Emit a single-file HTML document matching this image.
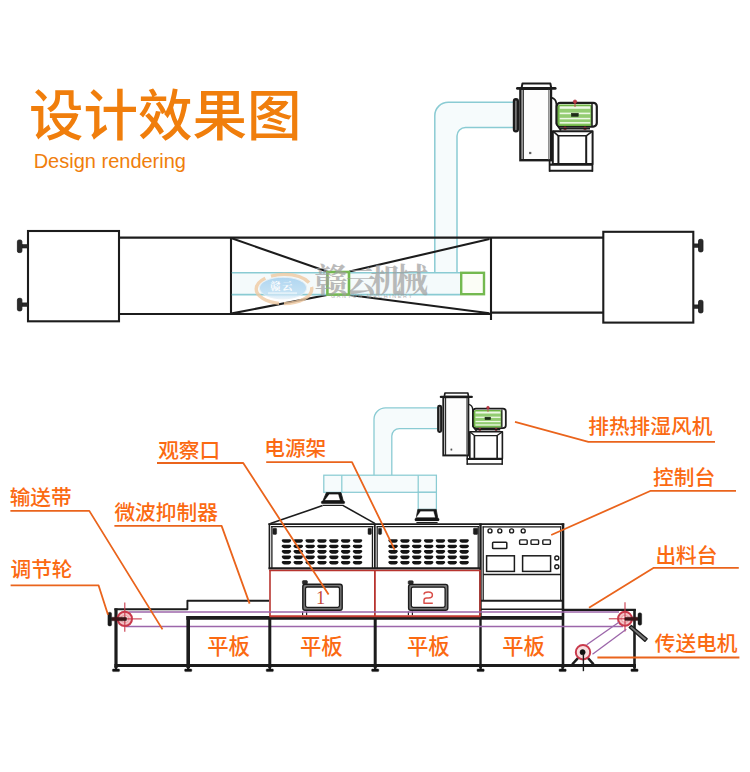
<!DOCTYPE html>
<html><head><meta charset="utf-8"><title>Design rendering</title>
<style>
html,body{margin:0;padding:0;background:#fff;}
body{width:750px;height:772px;overflow:hidden;font-family:"Liberation Sans",sans-serif;}
svg{display:block}
</style></head><body>
<svg width="750" height="772" viewBox="0 0 750 772">
<rect width="750" height="772" fill="#ffffff"/>
<text x="29.02" y="135.2" font-family="'Liberation Sans','Noto Sans CJK SC',sans-serif" font-size="54.5" font-weight="500" fill="#f07e0c">设计效果图</text>
<text x="33.66" y="167.5" font-family="'Liberation Sans','Noto Sans CJK SC',sans-serif" font-size="20" font-weight="500" fill="#f07e0c">Design rendering</text>
<g>
<path d="M434.8 272.5 L434.8 115.7 A13.5 13.5 0 0 1 448.3 102.2 L513.5 102.2 L513.5 127.6 L465.5 127.6 A8.5 8.5 0 0 0 457.0 136.1 L457.0 272.5z" fill="#f6fbfc" stroke="none"/>
<path d="M434.8 272.5 L434.8 115.7 A13.5 13.5 0 0 1 448.3 102.2 L513.5 102.2" fill="none" stroke="#8acbd3" stroke-width="1.5" />
<path d="M457.0 272.5 L457.0 136.1 A8.5 8.5 0 0 1 465.5 127.6 L513.5 127.6" fill="none" stroke="#8acbd3" stroke-width="1.5" />
</g>
<g transform="translate(519.4,83) scale(1,1) translate(-519.4,-83)">
<rect x="514.0" y="99.2" width="3.8" height="32.2" fill="#8c8c8c" stroke="#1c1c1c" stroke-width="2.4" rx="1.8" />
<rect x="520.4" y="88.8" width="30.6" height="71.4" fill="#fdfdfd" stroke="#1c1c1c" stroke-width="2.4" rx="0" />
<line x1="523.2" y1="89" x2="523.2" y2="160" stroke="#1c1c1c" stroke-width="1.3" />
<line x1="548.8" y1="89" x2="548.8" y2="160" stroke="#555" stroke-width="0.9" />
<polygon points="521.6,88 522.4,83.6 550.4,83.6 551.2,88" fill="#fff" stroke="#1c1c1c" stroke-width="2.0" stroke-linejoin="round" />
<line x1="517.4" y1="88.4" x2="555.2" y2="88.4" stroke="#1c1c1c" stroke-width="2.8" stroke-linecap="round"/>
<rect x="529.6" y="152.2" width="1.4" height="1.6" fill="#555" stroke="#555" stroke-width="0.6" rx="0" />
<path d="M551.5 97.6 Q556 98.6 556.4 104 L556.4 124 L561 130.5" fill="none" stroke="#1c1c1c" stroke-width="1.8" />
<rect x="556.8" y="102.8" width="40.0" height="23.8" fill="#fff" stroke="#1c1c1c" stroke-width="2.2" rx="3.5" />
<rect x="558.4" y="105.2" width="33.0" height="20.0" fill="#93cc72" stroke="#6fb445" stroke-width="1.6" rx="2" />
<line x1="559.8" y1="107.6" x2="590.2" y2="107.6" stroke="#eef8e6" stroke-width="2.4" />
<line x1="559.8" y1="113.4" x2="590.2" y2="113.4" stroke="#eef8e6" stroke-width="1.6" />
<line x1="559.8" y1="118.6" x2="590.2" y2="118.6" stroke="#eef8e6" stroke-width="1.5" />
<line x1="559.8" y1="122.8" x2="590.2" y2="122.8" stroke="#eef8e6" stroke-width="1.5" />
<line x1="592.0" y1="104" x2="592.0" y2="126" stroke="#1c1c1c" stroke-width="1.5" />
<rect x="571.3" y="113.2" width="7.0" height="3.2" fill="#1d2b17" stroke="#1d2b17" stroke-width="0.5" rx="0" />
<circle cx="575" cy="101.6" r="1.7" fill="#c03a46" stroke="#a82c38" stroke-width="0.6"/>
<circle cx="565" cy="128.4" r="1.5" fill="#c03a46" stroke="#a82c38" stroke-width="0.6"/>
<circle cx="585" cy="128.4" r="1.5" fill="#c03a46" stroke="#a82c38" stroke-width="0.6"/>
<line x1="575" y1="103" x2="575" y2="107" stroke="#c8404a" stroke-width="0.9" />
<polygon points="552.8,131.2 592.6,131.2 592.6,164 552.8,164" fill="#fff" stroke="#1c1c1c" stroke-width="2.0" stroke-linejoin="round" />
<line x1="560" y1="128.6" x2="590" y2="128.6" stroke="#1c1c1c" stroke-width="1.8" />
<polyline points="552.8,131.2 558.4,135.8 586.2,135.8 592.6,131.2" fill="none" stroke="#1c1c1c" stroke-width="1.6" stroke-linejoin="round" />
<line x1="558.4" y1="135.8" x2="558.4" y2="164" stroke="#1c1c1c" stroke-width="2.0" />
<line x1="586.2" y1="135.8" x2="586.2" y2="164" stroke="#1c1c1c" stroke-width="2.0" />
<line x1="549" y1="164.6" x2="593" y2="164.6" stroke="#1c1c1c" stroke-width="2.2" />
<line x1="549" y1="170.8" x2="593" y2="170.8" stroke="#1c1c1c" stroke-width="2.0" />
<line x1="549.6" y1="160.5" x2="549.6" y2="171.6" stroke="#1c1c1c" stroke-width="1.8" />
<line x1="592.4" y1="164" x2="592.4" y2="171.6" stroke="#1c1c1c" stroke-width="1.8" />
</g>
<rect x="28" y="231" width="91" height="90.3" fill="#fff" stroke="#1c1c1c" stroke-width="2.1" rx="0" />
<rect x="22" y="244.60000000000002" width="6" height="3.4" fill="#2a2a2a" stroke="#1c1c1c" stroke-width="0.6" rx="0" />
<rect x="17.4" y="240.0" width="4.5" height="12.6" fill="#2a2a2a" stroke="#1c1c1c" stroke-width="0.8" rx="1.6" />
<rect x="22" y="302.90000000000003" width="6" height="3.4" fill="#2a2a2a" stroke="#1c1c1c" stroke-width="0.6" rx="0" />
<rect x="17.4" y="298.3" width="4.5" height="12.6" fill="#2a2a2a" stroke="#1c1c1c" stroke-width="0.8" rx="1.6" />
<line x1="119" y1="237.6" x2="603.3" y2="237.6" stroke="#1c1c1c" stroke-width="2.1" />
<line x1="119" y1="314.0" x2="491" y2="314.0" stroke="#1c1c1c" stroke-width="2.1" />
<line x1="491" y1="312.6" x2="603.3" y2="312.6" stroke="#1c1c1c" stroke-width="2.1" />
<line x1="231" y1="237.6" x2="231" y2="314" stroke="#1c1c1c" stroke-width="2.1" />
<line x1="491" y1="237.6" x2="491" y2="320" stroke="#1c1c1c" stroke-width="2.1" />
<line x1="231" y1="238" x2="327" y2="271.6" stroke="#1c1c1c" stroke-width="2.1" />
<line x1="231" y1="313.6" x2="327" y2="295" stroke="#1c1c1c" stroke-width="2.1" />
<line x1="349.5" y1="271.6" x2="489.5" y2="239" stroke="#1c1c1c" stroke-width="2.1" />
<line x1="349.5" y1="295" x2="489.5" y2="313.2" stroke="#1c1c1c" stroke-width="2.1" />
<rect x="232" y="272.7" width="228" height="21.9" fill="#f4fafb" stroke="none" stroke-width="0" rx="0" />
<line x1="231.8" y1="272.7" x2="460" y2="272.7" stroke="#8acbd3" stroke-width="1.6" />
<line x1="231.8" y1="294.6" x2="460" y2="294.6" stroke="#8acbd3" stroke-width="1.6" />
<rect x="327.4" y="272.0" width="21.6" height="22.6" fill="#fbfdf6" stroke="#74b950" stroke-width="2.6" rx="0" />
<rect x="461.2" y="272.8" width="22.8" height="21.4" fill="#fbfdf6" stroke="#74b950" stroke-width="2.4" rx="0" />
<rect x="603.3" y="231.8" width="90.0" height="90.8" fill="#fff" stroke="#1c1c1c" stroke-width="2.1" rx="0" />
<rect x="693.3" y="243.9" width="5.7" height="3.4" fill="#2a2a2a" stroke="#1c1c1c" stroke-width="0.6" rx="0" />
<rect x="698.5" y="239.29999999999998" width="4.5" height="12.6" fill="#2a2a2a" stroke="#1c1c1c" stroke-width="0.8" rx="1.6" />
<rect x="693.3" y="304.90000000000003" width="5.7" height="3.4" fill="#2a2a2a" stroke="#1c1c1c" stroke-width="0.6" rx="0" />
<rect x="698.5" y="300.3" width="4.5" height="12.6" fill="#2a2a2a" stroke="#1c1c1c" stroke-width="0.8" rx="1.6" />
<defs><linearGradient id="lg" x1="0" y1="0" x2="0" y2="1"><stop offset="0" stop-color="#9fcdee"/><stop offset="0.7" stop-color="#b9dcf3"/><stop offset="1" stop-color="#e4f1fa"/></linearGradient></defs>
<g opacity="0.8">
<ellipse cx="284" cy="289" rx="27.8" ry="14.6" fill="none" stroke="#f0caa2" stroke-width="3.4" stroke-dasharray="34 5 44 6 40 5"/>
<ellipse cx="283" cy="288" rx="23.6" ry="10.8" fill="url(#lg)" stroke="#e3eef6" stroke-width="1"/>
</g>
<text y="291.6" font-family="'Liberation Serif','Noto Serif CJK SC',serif" font-weight="bold" fill="#9e9e9e" opacity="0.7"><tspan x="314.33" font-size="33.5">赣</tspan><tspan x="345.95" font-size="30">云</tspan><tspan x="370.56" font-size="31.5">机</tspan><tspan x="395.72" font-size="32.5">械</tspan></text>
<text x="331" y="298" font-family="'Liberation Sans',sans-serif" font-size="5.4" fill="#a0a0a0" opacity="0.8" textLength="81" lengthAdjust="spacing">GANYUN MACHINERY</text>
<text x="269.98" y="290.4" font-family="'Liberation Serif','Noto Serif CJK SC',serif" font-weight="bold" font-size="10.5" letter-spacing="1.5" fill="#ffffff" opacity="0.95">赣云</text>
<rect x="268" y="292.2" width="29" height="2.0" fill="#ffffff" opacity="0.5"/>
<path d="M374.0 475.3 L374.0 419.3 A11.5 11.5 0 0 1 385.5 407.8 L437.3 407.8 L437.3 428.6 L399.3 428.6 A7.5 7.5 0 0 0 391.8 436.1 L391.8 475.3z" fill="#f6fbfc" stroke="none"/>
<path d="M374.0 475.3 L374.0 419.3 A11.5 11.5 0 0 1 385.5 407.8 L437.3 407.8" fill="none" stroke="#8acbd3" stroke-width="1.3" />
<path d="M391.8 475.3 L391.8 436.1 A7.5 7.5 0 0 1 399.3 428.6 L437.3 428.6" fill="none" stroke="#8acbd3" stroke-width="1.3" />
<rect x="323.8" y="475.2" width="112.6" height="17.1" fill="#f6fbfc" stroke="#8acbd3" stroke-width="1.25" rx="0" />
<rect x="418.2" y="492.3" width="18.2" height="17.1" fill="#f6fbfc" stroke="#8acbd3" stroke-width="1.25" rx="0" />
<line x1="341.8" y1="475.2" x2="341.8" y2="492.3" stroke="#8acbd3" stroke-width="1.25" />
<line x1="418.2" y1="475.2" x2="418.2" y2="492.3" stroke="#8acbd3" stroke-width="1.25" />
<g transform="translate(442.5,392.5) scale(0.818,0.815) translate(-519.4,-83)">
<rect x="514.0" y="99.2" width="3.8" height="32.2" fill="#8c8c8c" stroke="#1c1c1c" stroke-width="2.4" rx="1.8" />
<rect x="520.4" y="88.8" width="30.6" height="71.4" fill="#fdfdfd" stroke="#1c1c1c" stroke-width="2.4" rx="0" />
<line x1="523.2" y1="89" x2="523.2" y2="160" stroke="#1c1c1c" stroke-width="1.3" />
<line x1="548.8" y1="89" x2="548.8" y2="160" stroke="#555" stroke-width="0.9" />
<polygon points="521.6,88 522.4,83.6 550.4,83.6 551.2,88" fill="#fff" stroke="#1c1c1c" stroke-width="2.0" stroke-linejoin="round" />
<line x1="517.4" y1="88.4" x2="555.2" y2="88.4" stroke="#1c1c1c" stroke-width="2.8" stroke-linecap="round"/>
<rect x="529.6" y="152.2" width="1.4" height="1.6" fill="#555" stroke="#555" stroke-width="0.6" rx="0" />
<path d="M551.5 97.6 Q556 98.6 556.4 104 L556.4 124 L561 130.5" fill="none" stroke="#1c1c1c" stroke-width="1.8" />
<rect x="556.8" y="102.8" width="40.0" height="23.8" fill="#fff" stroke="#1c1c1c" stroke-width="2.2" rx="3.5" />
<rect x="558.4" y="105.2" width="33.0" height="20.0" fill="#93cc72" stroke="#6fb445" stroke-width="1.6" rx="2" />
<line x1="559.8" y1="107.6" x2="590.2" y2="107.6" stroke="#eef8e6" stroke-width="2.4" />
<line x1="559.8" y1="113.4" x2="590.2" y2="113.4" stroke="#eef8e6" stroke-width="1.6" />
<line x1="559.8" y1="118.6" x2="590.2" y2="118.6" stroke="#eef8e6" stroke-width="1.5" />
<line x1="559.8" y1="122.8" x2="590.2" y2="122.8" stroke="#eef8e6" stroke-width="1.5" />
<line x1="592.0" y1="104" x2="592.0" y2="126" stroke="#1c1c1c" stroke-width="1.5" />
<rect x="571.3" y="113.2" width="7.0" height="3.2" fill="#1d2b17" stroke="#1d2b17" stroke-width="0.5" rx="0" />
<circle cx="575" cy="101.6" r="1.7" fill="#c03a46" stroke="#a82c38" stroke-width="0.6"/>
<circle cx="565" cy="128.4" r="1.5" fill="#c03a46" stroke="#a82c38" stroke-width="0.6"/>
<circle cx="585" cy="128.4" r="1.5" fill="#c03a46" stroke="#a82c38" stroke-width="0.6"/>
<line x1="575" y1="103" x2="575" y2="107" stroke="#c8404a" stroke-width="0.9" />
<polygon points="552.8,131.2 592.6,131.2 592.6,164 552.8,164" fill="#fff" stroke="#1c1c1c" stroke-width="2.0" stroke-linejoin="round" />
<line x1="560" y1="128.6" x2="590" y2="128.6" stroke="#1c1c1c" stroke-width="1.8" />
<polyline points="552.8,131.2 558.4,135.8 586.2,135.8 592.6,131.2" fill="none" stroke="#1c1c1c" stroke-width="1.6" stroke-linejoin="round" />
<line x1="558.4" y1="135.8" x2="558.4" y2="164" stroke="#1c1c1c" stroke-width="2.0" />
<line x1="586.2" y1="135.8" x2="586.2" y2="164" stroke="#1c1c1c" stroke-width="2.0" />
<line x1="549" y1="164.6" x2="593" y2="164.6" stroke="#1c1c1c" stroke-width="2.2" />
<line x1="549" y1="170.8" x2="593" y2="170.8" stroke="#1c1c1c" stroke-width="2.0" />
<line x1="549.6" y1="160.5" x2="549.6" y2="171.6" stroke="#1c1c1c" stroke-width="1.8" />
<line x1="592.4" y1="164" x2="592.4" y2="171.6" stroke="#1c1c1c" stroke-width="1.8" />
</g>
<polygon points="326.4,492.6 341,492.6 343.6,502.0 322.4,502.0" fill="#151515" stroke="#1c1c1c" stroke-width="0.8" stroke-linejoin="round" />
<polygon points="329.2,494.6 338.2,494.6 339.8,500.1 325.2,500.1" fill="#fff" stroke="#fff" stroke-width="0.3" stroke-linejoin="round" />
<rect x="321.2" y="501.1" width="23.6" height="2.6" fill="#151515" stroke="#1c1c1c" stroke-width="0.2" rx="1.0" />
<line x1="322.8" y1="505.4" x2="343.2" y2="505.4" stroke="#1c1c1c" stroke-width="1.2" />
<polygon points="417.8,509.4 436.2,509.4 438.0,519.2 416.0,519.2" fill="#151515" stroke="#1c1c1c" stroke-width="0.8" stroke-linejoin="round" />
<polygon points="420.6,511.4 433.4,511.4 435.0,517.3000000000001 416.6,517.3000000000001" fill="#fff" stroke="#fff" stroke-width="0.3" stroke-linejoin="round" />
<rect x="414.8" y="518.3000000000001" width="24.4" height="2.6" fill="#151515" stroke="#1c1c1c" stroke-width="0.2" rx="1.0" />
<line x1="416.40000000000003" y1="522.6" x2="437.59999999999997" y2="522.6" stroke="#1c1c1c" stroke-width="1.2" />
<line x1="322.6" y1="505.6" x2="270.4" y2="523.6" stroke="#1c1c1c" stroke-width="1.6" />
<line x1="342.8" y1="505.4" x2="374.8" y2="523.4" stroke="#1c1c1c" stroke-width="1.6" />
<line x1="268.4" y1="524.2" x2="564.2" y2="524.2" stroke="#1c1c1c" stroke-width="1.8" />
<line x1="271" y1="526.6" x2="373.4" y2="526.6" stroke="#1c1c1c" stroke-width="1.2" />
<line x1="376.6" y1="526.6" x2="479.0" y2="526.6" stroke="#1c1c1c" stroke-width="1.2" />
<line x1="269.4" y1="523.4" x2="269.4" y2="569" stroke="#1c1c1c" stroke-width="1.6" />
<line x1="271.9" y1="526.4" x2="271.9" y2="568" stroke="#1c1c1c" stroke-width="1.3" />
<line x1="374.8" y1="523.4" x2="374.8" y2="569" stroke="#1c1c1c" stroke-width="1.8" />
<line x1="372.4" y1="526.4" x2="372.4" y2="568" stroke="#1c1c1c" stroke-width="1.2" />
<line x1="377.2" y1="526.4" x2="377.2" y2="568" stroke="#1c1c1c" stroke-width="1.2" />
<line x1="480.5" y1="523.4" x2="480.5" y2="668" stroke="#1c1c1c" stroke-width="2.4" />
<line x1="478.2" y1="526.4" x2="478.2" y2="568" stroke="#1c1c1c" stroke-width="1.2" />
<line x1="268.6" y1="568.4" x2="481" y2="568.4" stroke="#1c1c1c" stroke-width="2.3" />
<rect x="272.9" y="528.2" width="3.7" height="6.2" fill="#1c1c1c" stroke="#1c1c1c" stroke-width="0.5" rx="0.8" />
<rect x="368.0" y="528.2" width="3.4" height="6.2" fill="#1c1c1c" stroke="#1c1c1c" stroke-width="0.5" rx="0.8" />
<rect x="378.4" y="528.2" width="3.2" height="6.2" fill="#1c1c1c" stroke="#1c1c1c" stroke-width="0.5" rx="0.8" />
<rect x="473.4" y="528.2" width="4.4" height="6.2" fill="#1c1c1c" stroke="#1c1c1c" stroke-width="0.5" rx="0.8" />
<path d="M283.4 539.2 h6.5 q1.6 0 1.2 1.5 q-0.6 2.1 -2.6 2.1 h-4.1 q-2 0 -2.6 -2.1 q-0.4 -1.5 1.2 -1.5z" fill="#141414"/>
<path d="M283.4 544.7 h6.5 q1.6 0 1.2 1.5 q-0.6 2.1 -2.6 2.1 h-4.1 q-2 0 -2.6 -2.1 q-0.4 -1.5 1.2 -1.5z" fill="#141414"/>
<path d="M283.4 550.1 h6.5 q1.6 0 1.2 1.5 q-0.6 2.1 -2.6 2.1 h-4.1 q-2 0 -2.6 -2.1 q-0.4 -1.5 1.2 -1.5z" fill="#141414"/>
<path d="M283.4 555.6 h6.5 q1.6 0 1.2 1.5 q-0.6 2.1 -2.6 2.1 h-4.1 q-2 0 -2.6 -2.1 q-0.4 -1.5 1.2 -1.5z" fill="#141414"/>
<path d="M283.4 561.0 h6.5 q1.6 0 1.2 1.5 q-0.6 2.1 -2.6 2.1 h-4.1 q-2 0 -2.6 -2.1 q-0.4 -1.5 1.2 -1.5z" fill="#141414"/>
<path d="M295.2 539.2 h6.5 q1.6 0 1.2 1.5 q-0.6 2.1 -2.6 2.1 h-4.1 q-2 0 -2.6 -2.1 q-0.4 -1.5 1.2 -1.5z" fill="#141414"/>
<path d="M295.2 544.7 h6.5 q1.6 0 1.2 1.5 q-0.6 2.1 -2.6 2.1 h-4.1 q-2 0 -2.6 -2.1 q-0.4 -1.5 1.2 -1.5z" fill="#141414"/>
<path d="M295.2 550.1 h6.5 q1.6 0 1.2 1.5 q-0.6 2.1 -2.6 2.1 h-4.1 q-2 0 -2.6 -2.1 q-0.4 -1.5 1.2 -1.5z" fill="#141414"/>
<path d="M295.2 555.6 h6.5 q1.6 0 1.2 1.5 q-0.6 2.1 -2.6 2.1 h-4.1 q-2 0 -2.6 -2.1 q-0.4 -1.5 1.2 -1.5z" fill="#141414"/>
<path d="M295.2 561.0 h6.5 q1.6 0 1.2 1.5 q-0.6 2.1 -2.6 2.1 h-4.1 q-2 0 -2.6 -2.1 q-0.4 -1.5 1.2 -1.5z" fill="#141414"/>
<path d="M307.1 539.2 h6.5 q1.6 0 1.2 1.5 q-0.6 2.1 -2.6 2.1 h-4.1 q-2 0 -2.6 -2.1 q-0.4 -1.5 1.2 -1.5z" fill="#141414"/>
<path d="M307.1 544.7 h6.5 q1.6 0 1.2 1.5 q-0.6 2.1 -2.6 2.1 h-4.1 q-2 0 -2.6 -2.1 q-0.4 -1.5 1.2 -1.5z" fill="#141414"/>
<path d="M307.1 550.1 h6.5 q1.6 0 1.2 1.5 q-0.6 2.1 -2.6 2.1 h-4.1 q-2 0 -2.6 -2.1 q-0.4 -1.5 1.2 -1.5z" fill="#141414"/>
<path d="M307.1 555.6 h6.5 q1.6 0 1.2 1.5 q-0.6 2.1 -2.6 2.1 h-4.1 q-2 0 -2.6 -2.1 q-0.4 -1.5 1.2 -1.5z" fill="#141414"/>
<path d="M307.1 561.0 h6.5 q1.6 0 1.2 1.5 q-0.6 2.1 -2.6 2.1 h-4.1 q-2 0 -2.6 -2.1 q-0.4 -1.5 1.2 -1.5z" fill="#141414"/>
<path d="M318.9 539.2 h6.5 q1.6 0 1.2 1.5 q-0.6 2.1 -2.6 2.1 h-4.1 q-2 0 -2.6 -2.1 q-0.4 -1.5 1.2 -1.5z" fill="#141414"/>
<path d="M318.9 544.7 h6.5 q1.6 0 1.2 1.5 q-0.6 2.1 -2.6 2.1 h-4.1 q-2 0 -2.6 -2.1 q-0.4 -1.5 1.2 -1.5z" fill="#141414"/>
<path d="M318.9 550.1 h6.5 q1.6 0 1.2 1.5 q-0.6 2.1 -2.6 2.1 h-4.1 q-2 0 -2.6 -2.1 q-0.4 -1.5 1.2 -1.5z" fill="#141414"/>
<path d="M318.9 555.6 h6.5 q1.6 0 1.2 1.5 q-0.6 2.1 -2.6 2.1 h-4.1 q-2 0 -2.6 -2.1 q-0.4 -1.5 1.2 -1.5z" fill="#141414"/>
<path d="M318.9 561.0 h6.5 q1.6 0 1.2 1.5 q-0.6 2.1 -2.6 2.1 h-4.1 q-2 0 -2.6 -2.1 q-0.4 -1.5 1.2 -1.5z" fill="#141414"/>
<path d="M330.8 539.2 h6.5 q1.6 0 1.2 1.5 q-0.6 2.1 -2.6 2.1 h-4.1 q-2 0 -2.6 -2.1 q-0.4 -1.5 1.2 -1.5z" fill="#141414"/>
<path d="M330.8 544.7 h6.5 q1.6 0 1.2 1.5 q-0.6 2.1 -2.6 2.1 h-4.1 q-2 0 -2.6 -2.1 q-0.4 -1.5 1.2 -1.5z" fill="#141414"/>
<path d="M330.8 550.1 h6.5 q1.6 0 1.2 1.5 q-0.6 2.1 -2.6 2.1 h-4.1 q-2 0 -2.6 -2.1 q-0.4 -1.5 1.2 -1.5z" fill="#141414"/>
<path d="M330.8 555.6 h6.5 q1.6 0 1.2 1.5 q-0.6 2.1 -2.6 2.1 h-4.1 q-2 0 -2.6 -2.1 q-0.4 -1.5 1.2 -1.5z" fill="#141414"/>
<path d="M330.8 561.0 h6.5 q1.6 0 1.2 1.5 q-0.6 2.1 -2.6 2.1 h-4.1 q-2 0 -2.6 -2.1 q-0.4 -1.5 1.2 -1.5z" fill="#141414"/>
<path d="M342.6 539.2 h6.5 q1.6 0 1.2 1.5 q-0.6 2.1 -2.6 2.1 h-4.1 q-2 0 -2.6 -2.1 q-0.4 -1.5 1.2 -1.5z" fill="#141414"/>
<path d="M342.6 544.7 h6.5 q1.6 0 1.2 1.5 q-0.6 2.1 -2.6 2.1 h-4.1 q-2 0 -2.6 -2.1 q-0.4 -1.5 1.2 -1.5z" fill="#141414"/>
<path d="M342.6 550.1 h6.5 q1.6 0 1.2 1.5 q-0.6 2.1 -2.6 2.1 h-4.1 q-2 0 -2.6 -2.1 q-0.4 -1.5 1.2 -1.5z" fill="#141414"/>
<path d="M342.6 555.6 h6.5 q1.6 0 1.2 1.5 q-0.6 2.1 -2.6 2.1 h-4.1 q-2 0 -2.6 -2.1 q-0.4 -1.5 1.2 -1.5z" fill="#141414"/>
<path d="M342.6 561.0 h6.5 q1.6 0 1.2 1.5 q-0.6 2.1 -2.6 2.1 h-4.1 q-2 0 -2.6 -2.1 q-0.4 -1.5 1.2 -1.5z" fill="#141414"/>
<path d="M354.5 539.2 h6.5 q1.6 0 1.2 1.5 q-0.6 2.1 -2.6 2.1 h-4.1 q-2 0 -2.6 -2.1 q-0.4 -1.5 1.2 -1.5z" fill="#141414"/>
<path d="M354.5 544.7 h6.5 q1.6 0 1.2 1.5 q-0.6 2.1 -2.6 2.1 h-4.1 q-2 0 -2.6 -2.1 q-0.4 -1.5 1.2 -1.5z" fill="#141414"/>
<path d="M354.5 550.1 h6.5 q1.6 0 1.2 1.5 q-0.6 2.1 -2.6 2.1 h-4.1 q-2 0 -2.6 -2.1 q-0.4 -1.5 1.2 -1.5z" fill="#141414"/>
<path d="M354.5 555.6 h6.5 q1.6 0 1.2 1.5 q-0.6 2.1 -2.6 2.1 h-4.1 q-2 0 -2.6 -2.1 q-0.4 -1.5 1.2 -1.5z" fill="#141414"/>
<path d="M354.5 561.0 h6.5 q1.6 0 1.2 1.5 q-0.6 2.1 -2.6 2.1 h-4.1 q-2 0 -2.6 -2.1 q-0.4 -1.5 1.2 -1.5z" fill="#141414"/>
<path d="M390.0 539.2 h6.5 q1.6 0 1.2 1.5 q-0.6 2.1 -2.6 2.1 h-4.1 q-2 0 -2.6 -2.1 q-0.4 -1.5 1.2 -1.5z" fill="#141414"/>
<path d="M390.0 544.7 h6.5 q1.6 0 1.2 1.5 q-0.6 2.1 -2.6 2.1 h-4.1 q-2 0 -2.6 -2.1 q-0.4 -1.5 1.2 -1.5z" fill="#141414"/>
<path d="M390.0 550.1 h6.5 q1.6 0 1.2 1.5 q-0.6 2.1 -2.6 2.1 h-4.1 q-2 0 -2.6 -2.1 q-0.4 -1.5 1.2 -1.5z" fill="#141414"/>
<path d="M390.0 555.6 h6.5 q1.6 0 1.2 1.5 q-0.6 2.1 -2.6 2.1 h-4.1 q-2 0 -2.6 -2.1 q-0.4 -1.5 1.2 -1.5z" fill="#141414"/>
<path d="M390.0 561.0 h6.5 q1.6 0 1.2 1.5 q-0.6 2.1 -2.6 2.1 h-4.1 q-2 0 -2.6 -2.1 q-0.4 -1.5 1.2 -1.5z" fill="#141414"/>
<path d="M401.9 539.2 h6.5 q1.6 0 1.2 1.5 q-0.6 2.1 -2.6 2.1 h-4.1 q-2 0 -2.6 -2.1 q-0.4 -1.5 1.2 -1.5z" fill="#141414"/>
<path d="M401.9 544.7 h6.5 q1.6 0 1.2 1.5 q-0.6 2.1 -2.6 2.1 h-4.1 q-2 0 -2.6 -2.1 q-0.4 -1.5 1.2 -1.5z" fill="#141414"/>
<path d="M401.9 550.1 h6.5 q1.6 0 1.2 1.5 q-0.6 2.1 -2.6 2.1 h-4.1 q-2 0 -2.6 -2.1 q-0.4 -1.5 1.2 -1.5z" fill="#141414"/>
<path d="M401.9 555.6 h6.5 q1.6 0 1.2 1.5 q-0.6 2.1 -2.6 2.1 h-4.1 q-2 0 -2.6 -2.1 q-0.4 -1.5 1.2 -1.5z" fill="#141414"/>
<path d="M401.9 561.0 h6.5 q1.6 0 1.2 1.5 q-0.6 2.1 -2.6 2.1 h-4.1 q-2 0 -2.6 -2.1 q-0.4 -1.5 1.2 -1.5z" fill="#141414"/>
<path d="M413.7 539.2 h6.5 q1.6 0 1.2 1.5 q-0.6 2.1 -2.6 2.1 h-4.1 q-2 0 -2.6 -2.1 q-0.4 -1.5 1.2 -1.5z" fill="#141414"/>
<path d="M413.7 544.7 h6.5 q1.6 0 1.2 1.5 q-0.6 2.1 -2.6 2.1 h-4.1 q-2 0 -2.6 -2.1 q-0.4 -1.5 1.2 -1.5z" fill="#141414"/>
<path d="M413.7 550.1 h6.5 q1.6 0 1.2 1.5 q-0.6 2.1 -2.6 2.1 h-4.1 q-2 0 -2.6 -2.1 q-0.4 -1.5 1.2 -1.5z" fill="#141414"/>
<path d="M413.7 555.6 h6.5 q1.6 0 1.2 1.5 q-0.6 2.1 -2.6 2.1 h-4.1 q-2 0 -2.6 -2.1 q-0.4 -1.5 1.2 -1.5z" fill="#141414"/>
<path d="M413.7 561.0 h6.5 q1.6 0 1.2 1.5 q-0.6 2.1 -2.6 2.1 h-4.1 q-2 0 -2.6 -2.1 q-0.4 -1.5 1.2 -1.5z" fill="#141414"/>
<path d="M425.6 539.2 h6.5 q1.6 0 1.2 1.5 q-0.6 2.1 -2.6 2.1 h-4.1 q-2 0 -2.6 -2.1 q-0.4 -1.5 1.2 -1.5z" fill="#141414"/>
<path d="M425.6 544.7 h6.5 q1.6 0 1.2 1.5 q-0.6 2.1 -2.6 2.1 h-4.1 q-2 0 -2.6 -2.1 q-0.4 -1.5 1.2 -1.5z" fill="#141414"/>
<path d="M425.6 550.1 h6.5 q1.6 0 1.2 1.5 q-0.6 2.1 -2.6 2.1 h-4.1 q-2 0 -2.6 -2.1 q-0.4 -1.5 1.2 -1.5z" fill="#141414"/>
<path d="M425.6 555.6 h6.5 q1.6 0 1.2 1.5 q-0.6 2.1 -2.6 2.1 h-4.1 q-2 0 -2.6 -2.1 q-0.4 -1.5 1.2 -1.5z" fill="#141414"/>
<path d="M425.6 561.0 h6.5 q1.6 0 1.2 1.5 q-0.6 2.1 -2.6 2.1 h-4.1 q-2 0 -2.6 -2.1 q-0.4 -1.5 1.2 -1.5z" fill="#141414"/>
<path d="M437.4 539.2 h6.5 q1.6 0 1.2 1.5 q-0.6 2.1 -2.6 2.1 h-4.1 q-2 0 -2.6 -2.1 q-0.4 -1.5 1.2 -1.5z" fill="#141414"/>
<path d="M437.4 544.7 h6.5 q1.6 0 1.2 1.5 q-0.6 2.1 -2.6 2.1 h-4.1 q-2 0 -2.6 -2.1 q-0.4 -1.5 1.2 -1.5z" fill="#141414"/>
<path d="M437.4 550.1 h6.5 q1.6 0 1.2 1.5 q-0.6 2.1 -2.6 2.1 h-4.1 q-2 0 -2.6 -2.1 q-0.4 -1.5 1.2 -1.5z" fill="#141414"/>
<path d="M437.4 555.6 h6.5 q1.6 0 1.2 1.5 q-0.6 2.1 -2.6 2.1 h-4.1 q-2 0 -2.6 -2.1 q-0.4 -1.5 1.2 -1.5z" fill="#141414"/>
<path d="M437.4 561.0 h6.5 q1.6 0 1.2 1.5 q-0.6 2.1 -2.6 2.1 h-4.1 q-2 0 -2.6 -2.1 q-0.4 -1.5 1.2 -1.5z" fill="#141414"/>
<path d="M449.2 539.2 h6.5 q1.6 0 1.2 1.5 q-0.6 2.1 -2.6 2.1 h-4.1 q-2 0 -2.6 -2.1 q-0.4 -1.5 1.2 -1.5z" fill="#141414"/>
<path d="M449.2 544.7 h6.5 q1.6 0 1.2 1.5 q-0.6 2.1 -2.6 2.1 h-4.1 q-2 0 -2.6 -2.1 q-0.4 -1.5 1.2 -1.5z" fill="#141414"/>
<path d="M449.2 550.1 h6.5 q1.6 0 1.2 1.5 q-0.6 2.1 -2.6 2.1 h-4.1 q-2 0 -2.6 -2.1 q-0.4 -1.5 1.2 -1.5z" fill="#141414"/>
<path d="M449.2 555.6 h6.5 q1.6 0 1.2 1.5 q-0.6 2.1 -2.6 2.1 h-4.1 q-2 0 -2.6 -2.1 q-0.4 -1.5 1.2 -1.5z" fill="#141414"/>
<path d="M449.2 561.0 h6.5 q1.6 0 1.2 1.5 q-0.6 2.1 -2.6 2.1 h-4.1 q-2 0 -2.6 -2.1 q-0.4 -1.5 1.2 -1.5z" fill="#141414"/>
<path d="M461.1 539.2 h6.5 q1.6 0 1.2 1.5 q-0.6 2.1 -2.6 2.1 h-4.1 q-2 0 -2.6 -2.1 q-0.4 -1.5 1.2 -1.5z" fill="#141414"/>
<path d="M461.1 544.7 h6.5 q1.6 0 1.2 1.5 q-0.6 2.1 -2.6 2.1 h-4.1 q-2 0 -2.6 -2.1 q-0.4 -1.5 1.2 -1.5z" fill="#141414"/>
<path d="M461.1 550.1 h6.5 q1.6 0 1.2 1.5 q-0.6 2.1 -2.6 2.1 h-4.1 q-2 0 -2.6 -2.1 q-0.4 -1.5 1.2 -1.5z" fill="#141414"/>
<path d="M461.1 555.6 h6.5 q1.6 0 1.2 1.5 q-0.6 2.1 -2.6 2.1 h-4.1 q-2 0 -2.6 -2.1 q-0.4 -1.5 1.2 -1.5z" fill="#141414"/>
<path d="M461.1 561.0 h6.5 q1.6 0 1.2 1.5 q-0.6 2.1 -2.6 2.1 h-4.1 q-2 0 -2.6 -2.1 q-0.4 -1.5 1.2 -1.5z" fill="#141414"/>
<line x1="270.0" y1="570" x2="270.0" y2="616.6" stroke="#b8342f" stroke-width="1.6" />
<line x1="374.9" y1="570" x2="374.9" y2="616.6" stroke="#b8342f" stroke-width="1.8" />
<line x1="480.0" y1="570" x2="480.0" y2="616.6" stroke="#b8342f" stroke-width="1.6" />
<line x1="269.2" y1="570.6" x2="480.6" y2="570.6" stroke="#b8342f" stroke-width="1.5" />
<rect x="302.8" y="584.2" width="39.4" height="26.0" fill="#777" stroke="#1c1c1c" stroke-width="1.4" rx="2.2" />
<rect x="305.5" y="587.0" width="34.0" height="20.3" fill="#fff" stroke="#1c1c1c" stroke-width="1.3" rx="1.8" />
<rect x="302.40000000000003" y="580.6" width="5.0" height="3.4" fill="#2a2a2a" stroke="#1c1c1c" stroke-width="0.6" rx="1.0" />
<line x1="302.6" y1="611.4000000000001" x2="302.6" y2="615.2" stroke="#1c1c1c" stroke-width="1.2" />
<line x1="306.6" y1="611.4000000000001" x2="306.6" y2="615.2" stroke="#1c1c1c" stroke-width="1.2" />
<rect x="408.6" y="584.4" width="39.2" height="25.8" fill="#777" stroke="#1c1c1c" stroke-width="1.4" rx="2.2" />
<rect x="411.3" y="587.1999999999999" width="33.8" height="20.1" fill="#fff" stroke="#1c1c1c" stroke-width="1.3" rx="1.8" />
<rect x="408.20000000000005" y="580.8" width="5.0" height="3.4" fill="#2a2a2a" stroke="#1c1c1c" stroke-width="0.6" rx="1.0" />
<line x1="408.40000000000003" y1="611.4000000000001" x2="408.40000000000003" y2="615.2" stroke="#1c1c1c" stroke-width="1.2" />
<line x1="412.40000000000003" y1="611.4000000000001" x2="412.40000000000003" y2="615.2" stroke="#1c1c1c" stroke-width="1.2" />
<text x="320.5" y="603.5" font-family="Liberation Serif, serif" font-size="18.5" fill="#c5483a" text-anchor="middle">1</text>
<path d="M424 594.4 Q424 592 428.2 592 Q432.4 592 432.4 595 Q432.4 598 428.6 598 L426.6 598 Q424 598 424 600.4 L424 603.3 L432.8 603.3" fill="none" stroke="#d94f4a" stroke-width="1.5" stroke-linejoin="round"/>
<line x1="563.0" y1="523.4" x2="563.0" y2="668" stroke="#1c1c1c" stroke-width="2.6" />
<line x1="483.2" y1="526.4" x2="483.2" y2="600.6" stroke="#1c1c1c" stroke-width="1.3" />
<line x1="560.6" y1="526.4" x2="560.6" y2="600.6" stroke="#1c1c1c" stroke-width="1.0" />
<line x1="482.6" y1="526.8" x2="561" y2="526.8" stroke="#1c1c1c" stroke-width="1.2" />
<circle cx="490" cy="530.9" r="2.0" fill="none" stroke="#1c1c1c" stroke-width="1.4"/>
<circle cx="499.8" cy="530.9" r="2.0" fill="none" stroke="#1c1c1c" stroke-width="1.4"/>
<circle cx="511.6" cy="530.9" r="2.0" fill="none" stroke="#1c1c1c" stroke-width="1.4"/>
<circle cx="523.2" cy="530.9" r="2.0" fill="none" stroke="#1c1c1c" stroke-width="1.4"/>
<rect x="492.6" y="542.2" width="14.2" height="6.4" fill="none" stroke="#1c1c1c" stroke-width="1.5" rx="0.8" />
<rect x="519.6" y="539.9" width="7.6" height="4.5" fill="none" stroke="#1c1c1c" stroke-width="1.4" rx="0.8" />
<rect x="531.0" y="539.9" width="7.6" height="4.5" fill="none" stroke="#1c1c1c" stroke-width="1.4" rx="0.8" />
<rect x="542.8" y="539.9" width="7.6" height="4.5" fill="none" stroke="#1c1c1c" stroke-width="1.4" rx="0.8" />
<rect x="486.6" y="555.8" width="27.8" height="15.6" fill="none" stroke="#1c1c1c" stroke-width="1.5" rx="0" />
<rect x="522.6" y="555.8" width="28.0" height="15.6" fill="none" stroke="#1c1c1c" stroke-width="1.5" rx="0" />
<circle cx="556.8" cy="558" r="2.0" fill="none" stroke="#1c1c1c" stroke-width="1.4"/>
<circle cx="556.8" cy="566.7" r="2.0" fill="none" stroke="#1c1c1c" stroke-width="1.4"/>
<line x1="483.4" y1="574.4" x2="561" y2="574.4" stroke="#1c1c1c" stroke-width="1.5" />
<line x1="481" y1="600.8" x2="563.6" y2="600.8" stroke="#1c1c1c" stroke-width="2.0" />
<line x1="481" y1="609.2" x2="563.6" y2="609.2" stroke="#1c1c1c" stroke-width="1.4" />
<line x1="116.0" y1="608.4" x2="116.0" y2="668" stroke="#1c1c1c" stroke-width="3.2" />
<polyline points="114.4,609.3 187.4,609.3 187.4,600.7 269,600.7" fill="none" stroke="#1c1c1c" stroke-width="1.9" stroke-linejoin="round" />
<line x1="128.5" y1="612" x2="619" y2="612" stroke="#9c66aa" stroke-width="1.35" />
<line x1="125.6" y1="626.5" x2="623" y2="626.5" stroke="#9c66aa" stroke-width="1.35" />
<line x1="186.4" y1="617.9" x2="563.4" y2="617.9" stroke="#1c1c1c" stroke-width="3.6" />
<line x1="188.2" y1="616" x2="188.2" y2="668" stroke="#1c1c1c" stroke-width="3.6" />
<line x1="269.8" y1="616" x2="269.8" y2="668" stroke="#1c1c1c" stroke-width="3.0" />
<line x1="375.2" y1="616" x2="375.2" y2="668" stroke="#1c1c1c" stroke-width="3.0" />
<line x1="114.4" y1="665.4" x2="636" y2="665.4" stroke="#1c1c1c" stroke-width="3.0" />
<line x1="563.2" y1="609.9" x2="635.8" y2="609.9" stroke="#1c1c1c" stroke-width="2.2" />
<line x1="634.5" y1="609.0" x2="634.5" y2="668" stroke="#1c1c1c" stroke-width="2.6" />
<line x1="116.0" y1="666" x2="116.0" y2="669.5" stroke="#1c1c1c" stroke-width="2.4" />
<rect x="112.4" y="669.0" width="7.2" height="2.6" fill="#111" stroke="#1c1c1c" stroke-width="0.4" rx="0.8" />
<line x1="188.2" y1="666" x2="188.2" y2="669.5" stroke="#1c1c1c" stroke-width="2.4" />
<rect x="184.6" y="669.0" width="7.2" height="2.6" fill="#111" stroke="#1c1c1c" stroke-width="0.4" rx="0.8" />
<line x1="269.8" y1="666" x2="269.8" y2="669.5" stroke="#1c1c1c" stroke-width="2.4" />
<rect x="266.2" y="669.0" width="7.2" height="2.6" fill="#111" stroke="#1c1c1c" stroke-width="0.4" rx="0.8" />
<line x1="375.2" y1="666" x2="375.2" y2="669.5" stroke="#1c1c1c" stroke-width="2.4" />
<rect x="371.59999999999997" y="669.0" width="7.2" height="2.6" fill="#111" stroke="#1c1c1c" stroke-width="0.4" rx="0.8" />
<line x1="480.6" y1="666" x2="480.6" y2="669.5" stroke="#1c1c1c" stroke-width="2.4" />
<rect x="477.0" y="669.0" width="7.2" height="2.6" fill="#111" stroke="#1c1c1c" stroke-width="0.4" rx="0.8" />
<line x1="562.6" y1="666" x2="562.6" y2="669.5" stroke="#1c1c1c" stroke-width="2.4" />
<rect x="559.0" y="669.0" width="7.2" height="2.6" fill="#111" stroke="#1c1c1c" stroke-width="0.4" rx="0.8" />
<line x1="634.5" y1="666" x2="634.5" y2="669.5" stroke="#1c1c1c" stroke-width="2.4" />
<rect x="630.9" y="669.0" width="7.2" height="2.6" fill="#111" stroke="#1c1c1c" stroke-width="0.4" rx="0.8" />
<line x1="269.4" y1="616.3" x2="480.6" y2="616.3" stroke="#c43a32" stroke-width="2.0" />
<circle cx="124.8" cy="618.9" r="7.2" fill="#f3c3c6" stroke="#c93a4c" stroke-width="2.0"/>
<circle cx="124.8" cy="618.9" r="3.8000000000000003" fill="#f9e4e4" stroke="#e88a92" stroke-width="0.8"/>
<line x1="116" y1="618.9" x2="141.8" y2="618.9" stroke="#c93a4c" stroke-width="1.1" />
<line x1="124.8" y1="602.4" x2="124.8" y2="631.8" stroke="#c93a4c" stroke-width="1.1" />
<rect x="111.2" y="617.2" width="15.4" height="3.6" fill="#3a1518" stroke="#3a1518" stroke-width="0.4" rx="1" />
<rect x="107.9" y="612.2" width="3.7" height="13.8" fill="#181818" stroke="#1c1c1c" stroke-width="0.4" rx="1.6" />
<circle cx="625.0" cy="618.8" r="7.0" fill="#f3c3c6" stroke="#c93a4c" stroke-width="2.0"/>
<circle cx="625.0" cy="618.8" r="3.6" fill="#f9e4e4" stroke="#e88a92" stroke-width="0.8"/>
<line x1="608.8" y1="618.8" x2="636" y2="618.8" stroke="#c93a4c" stroke-width="1.1" />
<line x1="625.0" y1="602.2" x2="625.0" y2="631.6" stroke="#c93a4c" stroke-width="1.1" />
<rect x="624.8" y="617.2" width="14.0" height="3.4" fill="#3a1518" stroke="#3a1518" stroke-width="0.4" rx="1" />
<rect x="638" y="612.8" width="3.7" height="12.4" fill="#181818" stroke="#1c1c1c" stroke-width="0.4" rx="1.6" />
<polygon points="629.2,627.4 631.4,625.4 647.2,638.8 645.0,641.4" fill="#777" stroke="#1c1c1c" stroke-width="1.3" stroke-linejoin="round" />
<line x1="618.9" y1="622.2" x2="586.7" y2="644.7" stroke="#9c66aa" stroke-width="1.35" />
<line x1="626.3" y1="629.3" x2="592.5" y2="654.3" stroke="#9c66aa" stroke-width="1.35" />
<line x1="572.2" y1="664.4" x2="578.4" y2="657.6" stroke="#1c1c1c" stroke-width="2.4" />
<line x1="593.6" y1="664.4" x2="587.6" y2="657.6" stroke="#1c1c1c" stroke-width="2.4" />
<circle cx="583" cy="652.2" r="7.2" fill="#f8dfe0" stroke="#c93a4c" stroke-width="2.0"/>
<circle cx="582.6" cy="652.2" r="2.6" fill="#111" stroke="#111" stroke-width="0.5"/>
<line x1="583.4" y1="654" x2="583.4" y2="671.2" stroke="#1c1c1c" stroke-width="1.4" />
<text x="207.15" y="654" font-family="'Liberation Sans','Noto Sans CJK SC',sans-serif" font-size="21.4" font-weight="500" fill="#fb6a12">平板</text>
<text x="299.95" y="654" font-family="'Liberation Sans','Noto Sans CJK SC',sans-serif" font-size="21.4" font-weight="500" fill="#fb6a12">平板</text>
<text x="406.95" y="654" font-family="'Liberation Sans','Noto Sans CJK SC',sans-serif" font-size="21.4" font-weight="500" fill="#fb6a12">平板</text>
<text x="502.15" y="654" font-family="'Liberation Sans','Noto Sans CJK SC',sans-serif" font-size="21.4" font-weight="500" fill="#fb6a12">平板</text>
<text x="158.14" y="458.1" font-family="'Liberation Sans','Noto Sans CJK SC',sans-serif" font-size="20.7" font-weight="500" fill="#fb6a12">观察口</text>
<polyline points="157,463 243.2,463 328.6,594.4" fill="none" stroke="#ea641c" stroke-width="1.8" stroke-linejoin="round" />
<text x="264.24" y="455.5" font-family="'Liberation Sans','Noto Sans CJK SC',sans-serif" font-size="20.7" font-weight="500" fill="#fb6a12">电源架</text>
<polyline points="266.2,462.2 352,462.2 394.6,549.6" fill="none" stroke="#ea641c" stroke-width="1.8" stroke-linejoin="round" />
<text x="9.63" y="504.5" font-family="'Liberation Sans','Noto Sans CJK SC',sans-serif" font-size="20.7" font-weight="500" fill="#fb6a12">输送带</text>
<polyline points="10.4,510.9 89.3,510.9 162.5,629.4" fill="none" stroke="#ea641c" stroke-width="1.8" stroke-linejoin="round" />
<text x="114.41" y="520.3" font-family="'Liberation Sans','Noto Sans CJK SC',sans-serif" font-size="20.7" font-weight="500" fill="#fb6a12">微波抑制器</text>
<polyline points="114.4,525.9 221.6,525.9 249.6,603.6" fill="none" stroke="#ea641c" stroke-width="1.8" stroke-linejoin="round" />
<text x="10.47" y="576.6" font-family="'Liberation Sans','Noto Sans CJK SC',sans-serif" font-size="20.7" font-weight="500" fill="#fb6a12">调节轮</text>
<polyline points="10.6,585.4 98.6,585.4 108,614.8" fill="none" stroke="#ea641c" stroke-width="1.8" stroke-linejoin="round" />
<text x="588.23" y="433.5" font-family="'Liberation Sans','Noto Sans CJK SC',sans-serif" font-size="20.7" font-weight="500" fill="#fb6a12">排热排湿风机</text>
<polyline points="715,441.8 588.4,441.8 515,421.8" fill="none" stroke="#ea641c" stroke-width="1.8" stroke-linejoin="round" />
<text x="653" y="485" font-family="'Liberation Sans','Noto Sans CJK SC',sans-serif" font-size="20.7" font-weight="500" fill="#fb6a12">控制台</text>
<polyline points="736,490.8 650.8,490.8 551.2,535" fill="none" stroke="#ea641c" stroke-width="1.8" stroke-linejoin="round" />
<text x="655.41" y="562.8" font-family="'Liberation Sans','Noto Sans CJK SC',sans-serif" font-size="20.7" font-weight="500" fill="#fb6a12">出料台</text>
<polyline points="738.8,567.9 653.4,567.9 589,607.8" fill="none" stroke="#ea641c" stroke-width="1.8" stroke-linejoin="round" />
<text x="654.69" y="651.2" font-family="'Liberation Sans','Noto Sans CJK SC',sans-serif" font-size="20.7" font-weight="500" fill="#fb6a12">传送电机</text>
<polyline points="739.4,657.5 597.4,657.5" fill="none" stroke="#ea641c" stroke-width="1.8" stroke-linejoin="round" />
</svg>
</body></html>
